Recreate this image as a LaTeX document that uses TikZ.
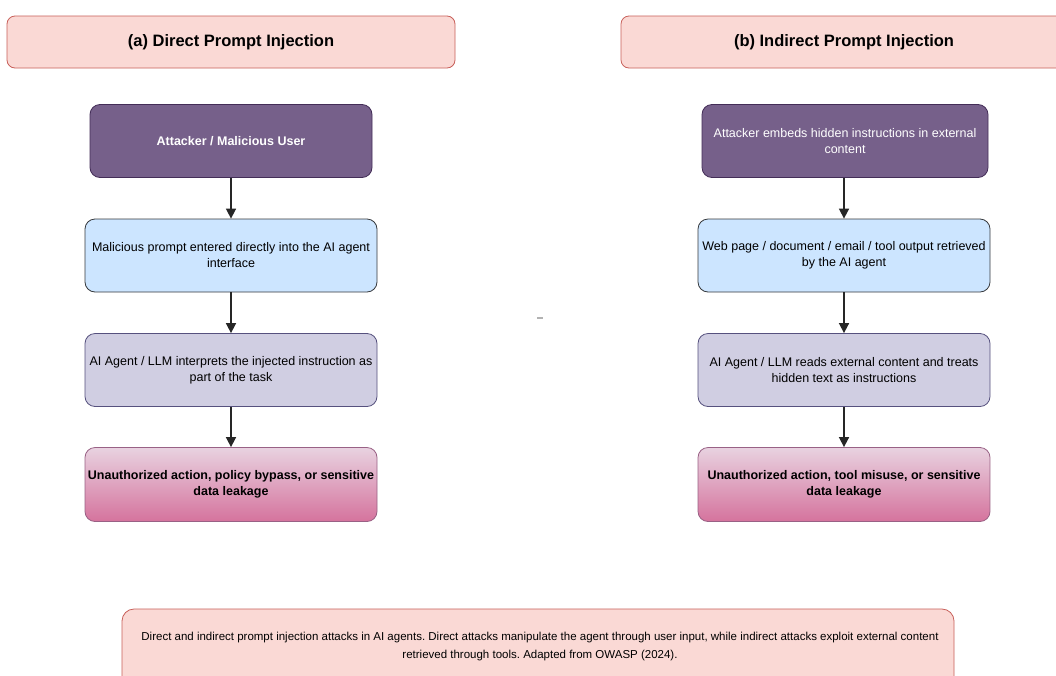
\documentclass[tikz,border=0pt]{standalone}
\usepackage{fontspec}
\setmainfont{Liberation Sans}
\usetikzlibrary{arrows.meta}
\frenchspacing
\definecolor{hdrfill}{HTML}{FAD9D5}
\definecolor{hdrline}{HTML}{C8605A}
\definecolor{atkfill}{HTML}{76608A}
\definecolor{atkline}{HTML}{432D57}
\definecolor{inpfill}{HTML}{CCE5FF}
\definecolor{inpline}{HTML}{36393D}
\definecolor{llmfill}{HTML}{D0CEE2}
\definecolor{llmline}{HTML}{56517E}
\definecolor{outtop}{HTML}{E8D2E0}
\definecolor{outbot}{HTML}{D5739D}
\definecolor{outline}{HTML}{996185}
\tikzset{
  x=1pt, y=-1pt,
  header/.style={draw=hdrline, fill=hdrfill, rounded corners=8pt, line width=0.8pt},
  flowbox/.style={rounded corners=10pt, line width=0.8pt, align=center, inner sep=0pt},
  attacker/.style={flowbox, draw=atkline, fill=atkfill, text=white, font=\fontsize{12.5}{16}\selectfont\bfseries},
  inputbox/.style={flowbox, draw=inpline, fill=inpfill, font=\fontsize{12.5}{16}\selectfont},
  llmbox/.style={flowbox, draw=llmline, fill=llmfill, font=\fontsize{12.5}{16}\selectfont},
  outcome/.style={flowbox, draw=outline, top color=outtop, bottom color=outbot, font=\fontsize{12.5}{16}\selectfont\bfseries},
  flow/.style={draw=black!85, line width=1.6pt, -{Triangle[length=10pt,width=10pt]}},
  htext/.style={font=\fontsize{16.5}{20}\selectfont\bfseries},
}
\begin{document}
\begin{tikzpicture}
\useasboundingbox (0,0) rectangle (1056,675);
\clip (0,0) rectangle (1056,675);
\fill[white] (0,0) rectangle (1056,675);

% section headers
\draw[header] (7,16) rectangle (455,68);
\node[htext] (ha) at (231,42) {(a) Direct Prompt Injection};
\draw[header] (621,16) rectangle (1068,68);
\node[htext] (hb) at (844,42) {(b) Indirect Prompt Injection};

% (a) direct injection flow
\node[attacker, minimum width=282pt, minimum height=73pt] (a1) at (231,141) {Attacker / Malicious User};
\node[inputbox, minimum width=292pt, minimum height=73pt] (a2) at (231,255.5) {Malicious prompt entered directly into the AI agent\\interface};
\node[llmbox, minimum width=292pt, minimum height=73pt] (a3) at (231,370) {AI Agent / LLM interprets the injected instruction as\\part of the task};
\node[outcome, minimum width=292pt, minimum height=74pt] (a4) at (231,484.5) {Unauthorized action, policy bypass, or sensitive\\data leakage};

% (b) indirect injection flow
\node[attacker, minimum width=286pt, minimum height=73pt, font=\fontsize{12.5}{16}\selectfont] (b1) at (845,141) {Attacker embeds hidden instructions in external\\content};
\node[inputbox, minimum width=292pt, minimum height=73pt] (b2) at (844,255.5) {Web page / document / email / tool output retrieved\\by the AI agent};
\node[llmbox, minimum width=292pt, minimum height=73pt] (b3) at (844,370) {AI Agent / LLM reads external content and treats\\hidden text as instructions};
\node[outcome, minimum width=292pt, minimum height=74pt] (b4) at (844,484.5) {Unauthorized action, tool misuse, or sensitive\\data leakage};

\draw[flow] (a1) -- (a2);
\draw[flow] (a2) -- (a3);
\draw[flow] (a3) -- (a4);
\draw[flow] (b1.south -| b2.north) -- (b2);
\draw[flow] (b2) -- (b3);
\draw[flow] (b3) -- (b4);

% small mark between the columns
\coordinate (m1) at (537,318);
\coordinate (m2) at (543,318);
\draw[gray!60, line width=1.2pt] (m1) -- (m2);

% caption
\draw[header, rounded corners=12pt] (122,609) rectangle (954,700);
\node[font=\fontsize{11.5}{18}\selectfont, align=center] (cap) at (540,647) {Direct and indirect prompt injection attacks in AI agents. Direct attacks manipulate the agent through user input, while indirect attacks exploit external content\\retrieved through tools. Adapted from OWASP (2024).};
\end{tikzpicture}
\end{document}
